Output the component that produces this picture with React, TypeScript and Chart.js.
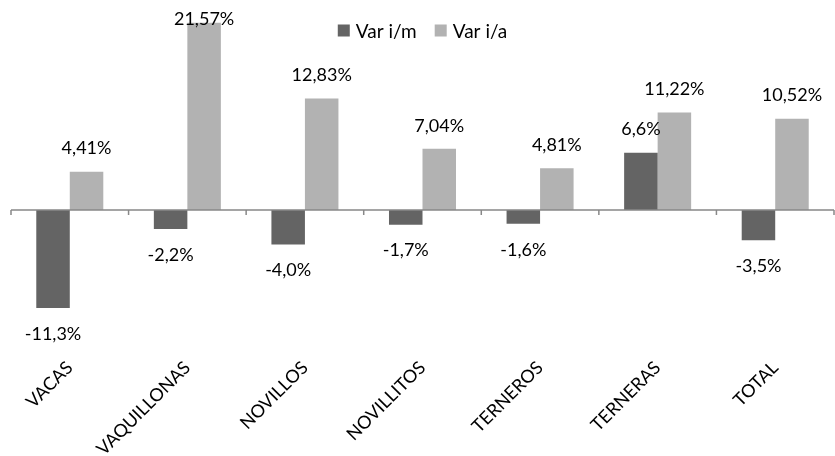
import React, { useEffect, useRef } from "react";
import { Chart, registerables } from "chart.js";

Chart.register(...registerables);

const categories = ["VACAS", "VAQUILLONAS", "NOVILLOS", "NOVILLITOS", "TERNEROS", "TERNERAS", "TOTAL"];
const seriesNames = ["Var i/m", "Var i/a"];
const varMensual = [-11.3, -2.2, -4.0, -1.7, -1.6, 6.6, -3.5];
const varAnual = [4.41, 21.57, 12.83, 7.04, 4.81, 11.22, 10.52];
const labelDecimals = [1, 2];
const seriesColors = ["#646464", "#b2b2b2"];
const yMin = -15;
const yMax = 24.2;

const FONT = "Lato, 'Open Sans', sans-serif";
const AXIS_COLOR = "#888888";

const fmt = (v: number, d: number) => v.toFixed(d).replace(".", ",") + "%";

const overlay = {
  id: "overlay",
  afterDatasetsDraw(chart: any) {
    const { ctx, chartArea, scales } = chart;
    const x = scales.x;
    const y = scales.y;
    const y0 = y.getPixelForValue(0);
    const n = chart.data.labels.length;
    const step = (chartArea.right - chartArea.left) / n;
    ctx.save();
    // zero axis line + tick marks
    ctx.strokeStyle = AXIS_COLOR;
    ctx.lineWidth = 1.5;
    ctx.beginPath();
    ctx.moveTo(chartArea.left, y0);
    ctx.lineTo(chartArea.right, y0);
    for (let i = 0; i <= n; i++) {
      const px = x.getPixelForValue(0) - step / 2 + i * step;
      ctx.moveTo(px, y0);
      ctx.lineTo(px, y0 + 5);
    }
    ctx.stroke();

    // data labels
    ctx.font = `18px ${FONT}`;
    ctx.fillStyle = "#000";
    ctx.textAlign = "center";
    ctx.textBaseline = "middle";
    chart.data.datasets.forEach((ds: any, di: number) => {
      const meta = chart.getDatasetMeta(di);
      meta.data.forEach((bar: any, i: number) => {
        const v = ds.data[i];
        let cy = v >= 0 ? bar.y - 23 : bar.y + 26;
        cy = Math.max(cy, chartArea.top + 19);
        ctx.fillText(fmt(v, labelDecimals[di]), bar.x, cy);
      });
    });

    // legend
    ctx.font = `19px ${FONT}`;
    const box = 12;
    const gapText = 6;
    const gapItem = 18;
    const widths = chart.data.datasets.map((ds: any) => ctx.measureText(ds.label).width);
    const total = widths.reduce((a: number, w: number) => a + box + gapText + w, 0) + gapItem * (widths.length - 1);
    let lx = (chartArea.left + chartArea.right) / 2 - total / 2;
    const ly = chartArea.top + 30.5;
    ctx.textAlign = "left";
    chart.data.datasets.forEach((ds: any, di: number) => {
      ctx.fillStyle = ds.backgroundColor;
      ctx.fillRect(lx, ly - box / 2, box, box);
      ctx.fillStyle = "#000";
      ctx.fillText(ds.label, lx + box + gapText, ly + 1);
      lx += box + gapText + widths[di] + gapItem;
    });
    ctx.restore();
  },
};

export default function App() {
  const ref = useRef<HTMLCanvasElement>(null);
  useEffect(() => {
    if (!ref.current) return;
    Chart.defaults.font.family = FONT;
    const chart = new Chart(ref.current, {
      type: "bar",
      data: {
        labels: categories,
        datasets: [
          { label: seriesNames[0], data: varMensual, backgroundColor: seriesColors[0] },
          { label: seriesNames[1], data: varAnual, backgroundColor: seriesColors[1] },
        ],
      },
      options: {
        responsive: false,
        animation: false,
        devicePixelRatio: 1,
        layout: { padding: { left: 11, right: 1, top: 0, bottom: 0 } },
        datasets: { bar: { categoryPercentage: 0.57, barPercentage: 1 } },
        plugins: { legend: { display: false }, tooltip: { enabled: false } },
        scales: {
          x: {
            grid: { display: false, drawTicks: false },
            border: { display: false },
            ticks: {
              color: "#000",
              font: { size: 18, family: FONT },
              minRotation: 45,
              maxRotation: 45,
              padding: 17,
            },
            afterFit: (scale: any) => {
              scale.height = 116;
            },
          },
          y: { display: false, min: yMin, max: yMax },
        },
      },
      plugins: [overlay],
    });
    return () => chart.destroy();
  }, []);
  return (
    <div style={{ position: "absolute", left: 0, top: 0, width: 835, height: 456, background: "#fff" }}>
      <canvas ref={ref} width={835} height={456} />
    </div>
  );
}
